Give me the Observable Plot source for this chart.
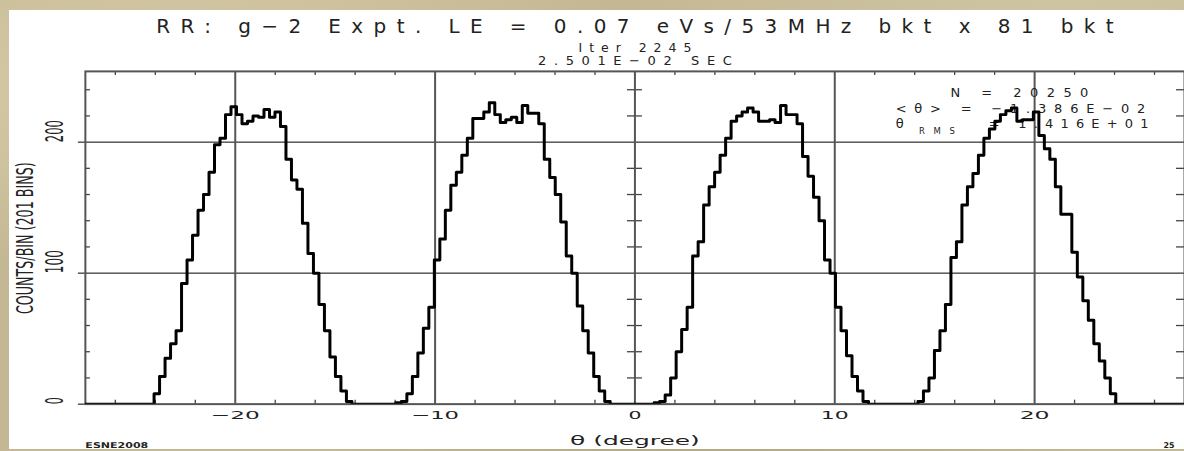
<!DOCTYPE html>
<html><head><meta charset="utf-8">
<script src="https://cdn.jsdelivr.net/npm/d3@7"></script>
<script src="https://cdn.jsdelivr.net/npm/@observablehq/plot@0.6"></script>
<style>
html,body{margin:0;padding:0;}
body{width:1184px;height:451px;overflow:hidden;position:relative;
 background:
  radial-gradient(ellipse at 15% 20%, rgba(225,214,180,0.7), transparent 35%),
  radial-gradient(ellipse at 60% 90%, rgba(165,152,118,0.6), transparent 40%),
  radial-gradient(ellipse at 90% 10%, rgba(215,205,172,0.7), transparent 30%),
  #c4b894;}
#panel{position:absolute;left:9px;top:10px;width:1175px;height:439px;background:#fff;overflow:hidden;}
#panel svg{display:block;}
</style></head><body><div id="panel"></div>
<script>
// ---- data ----
const counts = [
  0,0,0,0,0,0,0,0,0,0,
  0,0,0,8,21,35,46,56,92,110,
  129,148,160,177,198,203,221,227,221,214,
  216,220,219,225,219,223,212,187,171,164,
  138,115,100,76,56,36,21,10,2,0,
  0,0,0,0,0,0,0,1,2,8,
  21,39,58,74,110,126,148,167,177,190,
  203,218,218,223,230,221,215,217,219,215,
  228,222,222,214,187,173,160,139,113,100,
  75,56,39,21,10,2,0,0,0,0,
  0,0,0,0,1,2,7,20,40,57,
  74,113,124,152,166,177,190,203,216,220,
  223,226,223,216,216,217,215,228,221,221,
  214,189,174,158,140,110,100,74,56,37,
  21,10,2,0,0,0,0,0,0,0,
  0,0,2,10,20,41,56,76,112,124,
  152,166,176,190,203,210,216,221,224,226,
  216,217,217,223,205,195,187,166,145,145,
  116,97,79,64,46,33,20,8,0,0,
  0,0,0,0,0,0,0,0,0,0,
  0
];
const thetaRange = [-27.5, 27.5];
const countMax = 254;
const majorTheta = [-20, -10, 0, 10, 20];
const xTickLabels = ["−20", "−10", "0", "10", "20"];
const yMajor = [0, 100, 200];
const yTickLabels = ["0", "100", "200"];
const title = "RR: g−2 Expt. LE = 0.07 eVs/53MHz bkt x 81 bkt";
const subtitles = ["Iter 2245", "2.501E−02 SEC"];
const xTitle = "θ (degree)";
const yTitle = "COUNTS/BIN (201 BINS)";
const statN = "N = 20250";
const statMean = "<θ> = −1.386E−02";
const statRmsSym = "θ";
const statRmsSub = "RMS";
const statRmsVal = "= 1.416E+01";
const footLeft = "ESNE2008";
const footRight = "25";

// ---- derived ----
const binW = (thetaRange[1] - thetaRange[0]) / (counts.length - 1);
const steps = counts.map((c, k) => ({theta: thetaRange[0] + (k - 0.5) * binW, count: c}));
steps.push({theta: thetaRange[0] + (counts.length - 0.5) * binW, count: counts[counts.length - 1]});
const minorY = d3.range(20, countMax, 20).filter(v => v % 100 !== 0);
const minorX = d3.range(-26, 27, 2).filter(v => v % 10 !== 0);

const W = 1177, H = 439, mL = 76, mR = 0, mT = 61, mB = 44.7;
const fW = W - mL - mR, fH = H - mT - mB;
const F = "DejaVu Sans, Liberation Sans, sans-serif";
const ink = "#222";

const plot = Plot.plot({
  width: W, height: H,
  marginLeft: mL, marginRight: mR, marginTop: mT, marginBottom: mB,
  x: {domain: thetaRange, axis: null},
  y: {domain: [0, countMax], axis: null},
  style: {background: "white", fontFamily: F, overflow: "visible"},
  marks: [
    Plot.ruleY([100, 200], {stroke: "#000", strokeWidth: 1}),
    Plot.tickY(yMajor, {insetLeft: -7, insetRight: fW, stroke: "#000", strokeWidth: 1}),
    Plot.tickY(minorY, {insetRight: fW - 5, stroke: "#444", strokeWidth: 1.3}),
    Plot.tickY(minorY, {insetLeft: fW / 2 - 7.5, insetRight: fW / 2 - 7.5, stroke: "#444", strokeWidth: 1.3}),
    Plot.tickY(minorY, {insetLeft: fW - 8, stroke: "#444", strokeWidth: 1.3}),
    Plot.tickX(minorX, {insetBottom: fH - 4, stroke: "#444", strokeWidth: 1.3}),
    Plot.tickX(minorX, {insetTop: fH - 4, stroke: "#444", strokeWidth: 1.3}),
    Plot.ruleX(majorTheta, {stroke: "#555", strokeWidth: 2}),
    Plot.frame({stroke: "#555", strokeWidth: 2}),
    // titles
    Plot.text([title], {text: d => d, frameAnchor: "top", dy: -38, lineAnchor: "bottom", fontSize: 20, fill: ink, className: "t-title"}),
    Plot.text([subtitles[0]], {text: d => d, frameAnchor: "top", dy: -19.3, lineAnchor: "bottom", fontSize: 12.5, fill: ink, className: "t-sub1"}),
    Plot.text([subtitles[1]], {text: d => d, frameAnchor: "top", dy: -6, lineAnchor: "bottom", fontSize: 13, fill: ink, className: "t-sub2"}),
    // stats
    Plot.text([statN], {text: d => d, frameAnchor: "top-right", dx: -234.3, dy: 26, textAnchor: "start", lineAnchor: "bottom", fontSize: 13, fill: ink, className: "t-n"}),
    Plot.text([statMean], {text: d => d, frameAnchor: "top-right", dx: -289.3, dy: 42, textAnchor: "start", lineAnchor: "bottom", fontSize: 13, fill: ink, className: "t-mean"}),
    Plot.text([statRmsSym], {text: d => d, frameAnchor: "top-right", dx: -289.3, dy: 57, textAnchor: "start", lineAnchor: "bottom", fontSize: 13, fill: ink}),
    Plot.text([statRmsSub], {text: d => d, frameAnchor: "top-right", dx: -266, dy: 62.5, textAnchor: "start", lineAnchor: "bottom", fontSize: 8.5, fill: ink, className: "t-rms"}),
    Plot.text([statRmsVal], {text: d => d, frameAnchor: "top-right", dx: -36, dy: 57, textAnchor: "end", lineAnchor: "bottom", fontSize: 13, fill: ink, className: "t-rmsv"}),
    // axis labels
    Plot.text(yMajor, {y: d => d, text: (d, i) => yTickLabels[i], frameAnchor: "left", dx: -30, rotate: -90, lineAnchor: "middle", fontSize: 24, fill: ink, className: "t-ylab"}),
    Plot.text([yTitle], {text: d => d, frameAnchor: "left", dx: -60, dy: 76.4, rotate: -90, textAnchor: "start", lineAnchor: "middle", fontSize: 23, fill: ink, className: "t-ytitle"}),
    Plot.text(majorTheta, {x: d => d, text: (d, i) => xTickLabels[i], frameAnchor: "bottom", dy: 15, lineAnchor: "bottom", fontSize: 11, fill: ink, className: "t-xlab"}),
    Plot.text([xTitle], {text: d => d, frameAnchor: "bottom", dy: 40.7, lineAnchor: "bottom", fontSize: 12.5, fill: ink, className: "t-xtitle"}),
    Plot.text([footLeft], {text: d => d, frameAnchor: "bottom-left", dy: 43.5, textAnchor: "start", lineAnchor: "bottom", fontSize: 8, fontWeight: "bold", fill: ink, className: "t-foot"}),
    Plot.text([footRight], {text: d => d, frameAnchor: "bottom-right", dx: -21, dy: 43.5, textAnchor: "start", lineAnchor: "bottom", fontSize: 8, fontWeight: "bold", fill: ink}),
    // histogram
    Plot.line(steps, {x: "theta", y: "count", curve: "step-after", stroke: "#000", strokeWidth: 3, clip: true})
  ]
});

// stretch / condense texts to the widths seen in the reference
const fits = [
  ["t-title", [959], "spacing"],
  ["t-sub1", [113], "spacing"],
  ["t-sub2", [194], "spacing"],
  ["t-n", [138], "spacing"],
  ["t-mean", [250], "spacing"],
  ["t-rms", [36], "spacing"],
  ["t-rmsv", [160], "spacing"],
  ["t-ylab", [7, 23, 22], "spacingAndGlyphs"],
  ["t-ytitle", [152], "spacingAndGlyphs"],
  ["t-xlab", [49, 48, 13, 28, 30], "spacingAndGlyphs"],
  ["t-xtitle", [130], "spacingAndGlyphs"],
  ["t-foot", [63], "spacingAndGlyphs"]
];
for (const [cls, lens, adj] of fits) {
  d3.select(plot).selectAll(`g.${cls} text`).each(function(d, i) {
    this.setAttribute("textLength", lens[Math.min(i, lens.length - 1)]);
    this.setAttribute("lengthAdjust", adj);
  });
}
document.getElementById("panel").appendChild(plot);
</script>
</body></html>
